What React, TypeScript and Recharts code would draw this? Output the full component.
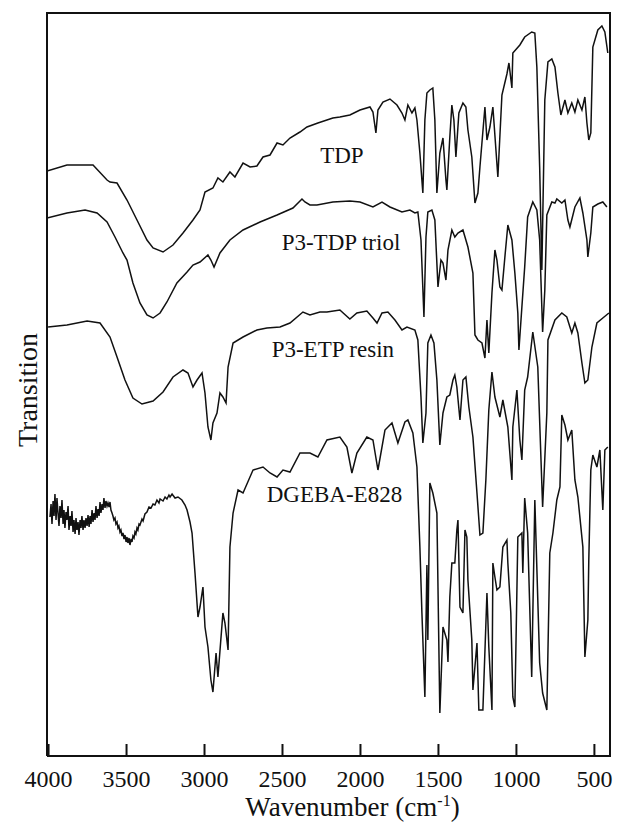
import { LineChart, Line, XAxis, YAxis, ReferenceDot } from 'recharts'

// FTIR spectra, wavenumber (cm-1) vs transmittance in arbitrary units, curves offset by hand
const WN_TICKS = [4000, 3500, 3000, 2500, 2000, 1500, 1000, 500]
const WN_RANGE: [number, number] = [400, 4010]
const T_RANGE: [number, number] = [0, 743]

const TDP: [number, number][] = [
  [4010, 585], [3882, 591], [3715, 591], [3625, 576], [3606, 574], [3561, 573], [3497, 556], [3433, 536],
  [3369, 516], [3330, 508], [3266, 504], [3202, 511], [3138, 523], [3074, 536], [3029, 546], [2997, 564],
  [2946, 568], [2914, 578], [2882, 574], [2837, 584], [2805, 579], [2753, 593], [2708, 589], [2664, 590],
  [2625, 599], [2580, 601], [2535, 613], [2497, 611], [2452, 618], [2388, 624], [2343, 629], [2273, 633],
  [2177, 638], [2132, 639], [2068, 641], [2003, 646], [1939, 649], [1920, 644], [1901, 623], [1888, 646],
  [1856, 654], [1811, 657], [1766, 651], [1734, 643], [1715, 636], [1696, 651], [1670, 643], [1651, 648],
  [1638, 636], [1619, 603], [1600, 563], [1587, 636], [1574, 663], [1555, 666], [1536, 668], [1523, 636],
  [1510, 563], [1491, 603], [1471, 618], [1452, 576], [1446, 566], [1427, 619], [1414, 651], [1401, 636],
  [1388, 599], [1369, 643], [1343, 653], [1324, 649], [1311, 626], [1286, 599], [1266, 553], [1247, 563],
  [1234, 589], [1202, 649], [1189, 616], [1170, 629], [1151, 649], [1119, 579], [1093, 661], [1061, 682],
  [1048, 693], [1029, 668], [1023, 703], [978, 711], [947, 719], [902, 724], [882, 723], [869, 689],
  [851, 589], [837, 486], [818, 656], [798, 694], [773, 697], [753, 689], [734, 663], [715, 641],
  [689, 656], [670, 643], [645, 653], [625, 644], [606, 656], [580, 646], [561, 659], [548, 633],
  [536, 616], [523, 623], [510, 709], [478, 726], [452, 730], [433, 724], [414, 703],
]

const TRIOL: [number, number][] = [
  [4010, 538], [3882, 543], [3766, 546], [3689, 543], [3625, 534], [3574, 519], [3523, 503], [3497, 496],
  [3459, 473], [3414, 453], [3369, 441], [3330, 438], [3285, 443], [3241, 454], [3177, 473], [3112, 484],
  [3074, 491], [3029, 494], [2978, 501], [2959, 496], [2939, 489], [2901, 503], [2837, 516], [2753, 526],
  [2644, 534], [2535, 541], [2433, 548], [2375, 557], [2356, 554], [2324, 551], [2279, 551], [2177, 554],
  [2068, 555], [2003, 554], [1920, 549], [1862, 554], [1811, 549], [1734, 544], [1683, 546], [1651, 543],
  [1632, 544], [1612, 516], [1593, 439], [1580, 519], [1568, 544], [1542, 546], [1523, 536], [1503, 469],
  [1484, 496], [1471, 493], [1452, 476], [1439, 506], [1414, 526], [1395, 519], [1375, 523], [1343, 526],
  [1311, 509], [1279, 483], [1266, 421], [1247, 416], [1221, 413], [1202, 398], [1189, 436], [1177, 403],
  [1157, 463], [1138, 506], [1125, 496], [1106, 469], [1093, 466], [1074, 499], [1055, 531], [1029, 516],
  [1010, 483], [991, 443], [984, 406], [965, 449], [947, 489], [928, 539], [895, 554], [869, 546],
  [851, 516], [832, 424], [818, 466], [805, 541], [773, 554], [753, 553], [741, 557], [709, 553],
  [689, 556], [670, 536], [657, 529], [625, 549], [593, 558], [574, 543], [548, 516], [542, 499],
  [523, 523], [510, 549], [478, 552], [446, 554], [420, 549],
]

const ETP: [number, number][] = [
  [4003, 429], [3882, 431], [3753, 435], [3670, 433], [3606, 419], [3561, 399], [3510, 376], [3459, 358],
  [3401, 352], [3330, 355], [3266, 364], [3202, 379], [3138, 386], [3106, 383], [3074, 369], [3048, 376],
  [3016, 383], [2997, 363], [2978, 329], [2959, 316], [2946, 333], [2920, 343], [2901, 363], [2882, 359],
  [2862, 353], [2849, 389], [2817, 413], [2753, 419], [2664, 426], [2600, 428], [2516, 429], [2452, 433],
  [2369, 444], [2324, 441], [2260, 444], [2215, 444], [2132, 446], [2068, 437], [2023, 443], [1959, 445],
  [1920, 438], [1894, 433], [1862, 443], [1824, 444], [1779, 436], [1734, 426], [1702, 429], [1651, 426],
  [1632, 416], [1612, 359], [1600, 313], [1580, 343], [1568, 413], [1548, 421], [1529, 413], [1510, 376],
  [1491, 311], [1471, 343], [1446, 359], [1427, 361], [1407, 376], [1395, 381], [1382, 369], [1362, 336],
  [1343, 376], [1324, 379], [1305, 349], [1279, 319], [1253, 263], [1234, 221], [1215, 223], [1196, 276],
  [1177, 346], [1157, 384], [1138, 359], [1106, 339], [1087, 356], [1055, 329], [1029, 276], [1023, 329],
  [997, 366], [978, 316], [965, 296], [947, 366], [928, 379], [895, 424], [863, 389], [832, 249],
  [805, 343], [798, 416], [753, 436], [709, 443], [677, 439], [645, 423], [625, 433], [606, 423],
  [580, 393], [561, 373], [542, 376], [516, 409], [484, 433], [446, 438], [407, 443],
]

// the high wavenumber end of this trace is noisy
const DGEBA: [number, number][] = [
  [3991, 239], [3984, 252], [3978, 232], [3971, 255], [3965, 240], [3959, 262], [3952, 236], [3946, 258],
  [3940, 244], [3933, 230], [3927, 250], [3920, 238], [3914, 256], [3907, 232], [3901, 246], [3895, 228],
  [3888, 244], [3882, 236], [3875, 250], [3869, 226], [3862, 240], [3856, 230], [3850, 245], [3843, 224],
  [3837, 236], [3830, 222], [3824, 238], [3818, 226], [3811, 234], [3805, 221], [3798, 236], [3792, 228],
  [3786, 240], [3779, 226], [3773, 236], [3766, 228], [3760, 238], [3753, 230], [3747, 241], [3740, 229],
  [3734, 240], [3728, 232], [3721, 246], [3715, 234], [3708, 243], [3702, 236], [3696, 250], [3689, 238],
  [3683, 247], [3676, 240], [3670, 254], [3664, 243], [3657, 252], [3651, 246], [3645, 258], [3638, 248],
  [3632, 255], [3625, 250], [3619, 253], [3612, 249], [3606, 254], [3600, 246], [3593, 243], [3587, 240],
  [3581, 236], [3574, 238], [3568, 232], [3561, 234], [3555, 228], [3549, 230], [3542, 224], [3536, 226],
  [3529, 220], [3523, 223], [3516, 217], [3510, 221], [3503, 214], [3497, 219], [3491, 213], [3484, 218],
  [3478, 211], [3471, 217], [3465, 214], [3459, 220], [3452, 218], [3446, 224], [3440, 222], [3433, 228],
  [3427, 226], [3420, 232], [3414, 231], [3401, 237], [3394, 235], [3382, 242], [3369, 244], [3356, 249],
  [3343, 248], [3330, 252], [3318, 251], [3305, 256], [3292, 253], [3285, 257], [3266, 255], [3253, 259],
  [3241, 257], [3228, 261], [3221, 259], [3208, 262], [3189, 258], [3170, 259], [3145, 256], [3125, 251],
  [3112, 246], [3093, 234], [3080, 223], [3061, 183], [3042, 139], [3029, 149], [3010, 169], [2997, 129],
  [2978, 109], [2959, 76], [2946, 64], [2926, 103], [2914, 79], [2882, 143], [2869, 133], [2849, 106],
  [2837, 209], [2817, 243], [2785, 266], [2753, 263], [2689, 286], [2625, 289], [2580, 283], [2535, 279],
  [2497, 286], [2452, 284], [2388, 303], [2324, 303], [2273, 299], [2215, 316], [2132, 319], [2087, 309],
  [2055, 283], [2023, 303], [1959, 319], [1920, 316], [1888, 286], [1843, 326], [1798, 333], [1760, 313],
  [1715, 334], [1696, 336], [1664, 323], [1638, 289], [1619, 209], [1606, 143], [1587, 59], [1574, 191],
  [1568, 116], [1555, 273], [1536, 263], [1510, 243], [1491, 43], [1471, 129], [1446, 116], [1439, 94],
  [1427, 159], [1414, 193], [1395, 193], [1382, 226], [1375, 236], [1362, 149], [1343, 143], [1330, 226],
  [1318, 219], [1311, 176], [1286, 116], [1279, 66], [1253, 113], [1241, 46], [1215, 46], [1189, 163],
  [1177, 109], [1157, 46], [1151, 193], [1138, 179], [1125, 166], [1106, 169], [1087, 209], [1061, 216],
  [1055, 193], [1036, 143], [1023, 59], [1010, 49], [991, 219], [965, 223], [959, 183], [947, 258],
  [928, 223], [902, 79], [882, 256], [851, 93], [832, 63], [805, 46], [786, 203], [766, 223],
  [741, 256], [721, 269], [709, 341], [689, 331], [670, 316], [645, 326], [625, 276], [606, 259],
  [574, 209], [561, 99], [542, 136], [536, 196], [523, 286], [510, 301], [484, 289], [465, 306],
  [446, 246], [433, 306], [414, 309],
]

const SERIES = [
  { name: 'TDP', points: TDP, at: [2119, 593] },
  { name: 'P3-TDP triol', points: TRIOL, at: [2125, 506] },
  { name: 'P3-ETP resin', points: ETP, at: [2177, 399] },
  { name: 'DGEBA-E828', points: DGEBA, at: [2167, 254] },
]

const INK = '#111'
const FONT = 'Liberation Serif, Times New Roman, serif'

// chart box and the plot area inside it
const W = 617
const H = 822
const M = { top: 13, right: 7, left: 47, bottom: 66 }
const PLOT = { x: M.left, y: M.top, w: W - M.left - M.right, h: H - M.top - M.bottom }

function WnTick({ x, y, payload }: any) {
  return (
    <g>
      <line x1={x} x2={x} y1={y} y2={y - 12} stroke={INK} strokeWidth={2} />
      <text x={x} y={y + 31} textAnchor="middle" style={{ fontFamily: FONT }} fontSize={24} fill={INK}>
        {payload.value}
      </text>
    </g>
  )
}

// x title, plus filled bars for the top and right edges of the box
function WnLabel() {
  return (
    <g>
      <rect x={PLOT.x - 1} y={PLOT.y - 1} width={PLOT.w + 2} height={2} fill={INK} />
      <rect x={PLOT.x + PLOT.w - 1} y={PLOT.y - 1} width={2} height={PLOT.h + 2} fill={INK} />
      <text x={PLOT.x + PLOT.w / 2 + 24} y={816} textAnchor="middle" style={{ fontFamily: FONT }} fontSize={27} fill={INK}>
        Wavenumber (cm
        <tspan dy={-10} fontSize={16}>-1</tspan>
        <tspan dy={10}>)</tspan>
      </text>
    </g>
  )
}

function TLabel() {
  return (
    <text
      x={37}
      y={390}
      transform="rotate(-90 37 390)"
      textAnchor="middle"
      style={{ fontFamily: FONT }}
      fontSize={28}
      fill={INK}
    >
      Transition
    </text>
  )
}

function SeriesName({ viewBox, text }: any) {
  const cx = viewBox.x + viewBox.width / 2
  const cy = viewBox.y + viewBox.height / 2
  return (
    <text x={cx} y={cy} textAnchor="middle" style={{ fontFamily: FONT }} fontSize={23} fill={INK}>
      {text}
    </text>
  )
}

export default function App() {
  return (
    <div style={{ position: 'absolute', left: 0, top: 0, width: W, height: H, background: '#fff' }}>
      <LineChart width={W} height={H} margin={{ top: M.top, right: M.right, bottom: 0, left: 0 }}>
        <XAxis
          type="number"
          dataKey="wn"
          domain={WN_RANGE}
          reversed
          allowDataOverflow
          ticks={WN_TICKS}
          height={M.bottom}
          tickSize={0}
          tickMargin={0}
          tickLine={false}
          axisLine={{ stroke: INK, strokeWidth: 2 }}
          tick={<WnTick />}
          label={{ content: () => <WnLabel /> }}
        />
        <YAxis
          type="number"
          domain={T_RANGE}
          allowDataOverflow
          width={M.left}
          tick={false}
          tickLine={false}
          axisLine={{ stroke: INK, strokeWidth: 2 }}
          label={{ content: () => <TLabel /> }}
        />
        {SERIES.map(s => (
          <Line
            key={s.name}
            data={s.points.map(([wn, t]) => ({ wn, t }))}
            dataKey="t"
            type="linear"
            stroke={INK}
            strokeWidth={1.5}
            dot={false}
            activeDot={false}
            isAnimationActive={false}
          />
        ))}
        {SERIES.map(s => (
          <ReferenceDot
            key={s.name + '-label'}
            x={s.at[0]}
            y={s.at[1]}
            r={0}
            fill="none"
            stroke="none"
            label={<SeriesName text={s.name} />}
          />
        ))}
      </LineChart>
    </div>
  )
}
